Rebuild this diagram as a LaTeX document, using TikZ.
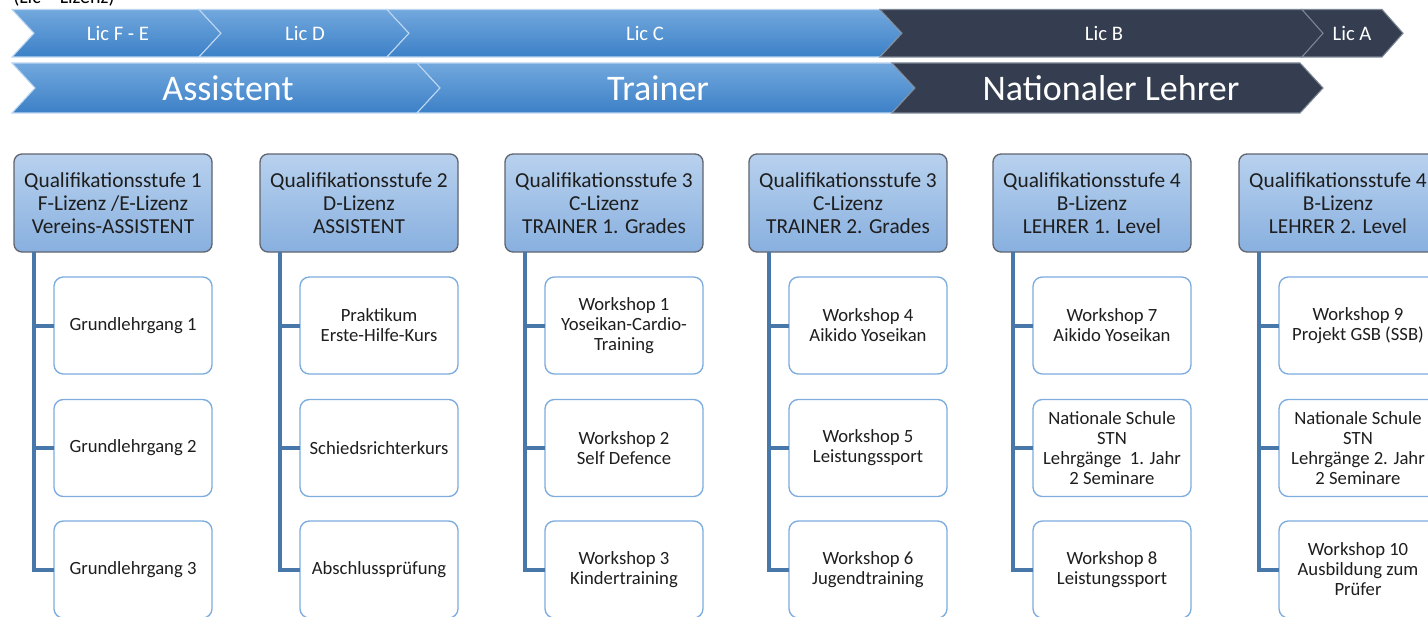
\documentclass[tikz,border=0pt]{standalone}
\usepackage{fontspec}
\setmainfont{Carlito}
\usetikzlibrary{calc}
\definecolor{blueT}{RGB}{114,168,221}
\definecolor{blueB}{RGB}{60,128,199}
\definecolor{blueEdge}{RGB}{188,214,241}
\definecolor{darkC}{RGB}{52,62,80}
\definecolor{darkEdge}{RGB}{125,134,148}
\definecolor{hdrT}{RGB}{184,209,238}
\definecolor{hdrB}{RGB}{136,176,223}
\definecolor{hdrLine}{RGB}{95,100,110}
\definecolor{kidLine}{RGB}{125,172,222}
\definecolor{connC}{RGB}{72,120,170}
\definecolor{txt}{RGB}{30,30,30}
\newcommand\chev[6]{\path[#1] (#2,#4) -- (#3,#4) -- ({#3+#6},{(#4+#5)/2}) -- (#3,#5) -- (#2,#5) -- ({#2+#6},{(#4+#5)/2}) -- cycle;}
\begin{document}
\begin{tikzpicture}[x=0.75pt,y=-0.75pt,
  bluechev/.style={top color=blueT,bottom color=blueB,draw=blueEdge,line width=0.8pt},
  darkchev/.style={fill=darkC,draw=darkEdge,line width=0.8pt},
  lictext/.style={text=white,inner sep=0pt,font=\fontsize{15.5}{18}\selectfont},
  bigtext/.style={text=white,inner sep=0pt,font=\fontsize{27}{30}\selectfont},
  hdr/.style={rectangle,rounded corners=6pt,draw=hdrLine,line width=1pt,top color=hdrT,bottom color=hdrB,
    minimum width=148.5pt,minimum height=73.5pt,inner sep=0pt,outer sep=0pt,align=center,text=txt,
    font=\fontsize{16}{17.25}\selectfont},
  kid/.style={rectangle,rounded corners=7pt,draw=kidLine,line width=1pt,fill=white,
    minimum width=118.5pt,minimum height=72.75pt,inner sep=0pt,outer sep=0pt,align=center,text=txt,
    font=\fontsize{14}{15}\selectfont},
  conn/.style={draw=connC,line width=3pt}]
\useasboundingbox (0,0) rectangle (1428,617);
\clip (0,0) rectangle (1428,617);

% note
\node[anchor=base west,inner sep=0pt,font=\fontsize{15}{18}\selectfont,text=black] (note) at (13,4) {(Lic = Lizenz)};

% top row chevrons
\chev{bluechev}{12}{199}{9.5}{57}{22}
\chev{bluechev}{199}{387}{9.5}{57}{22}
\chev{bluechev}{387}{880}{9.5}{57}{22}
\chev{darkchev}{880}{1302}{9.5}{57}{22}
\chev{darkchev}{1302}{1382}{9.5}{57}{21}
\node[lictext] (licFE) at (118,33) {Lic F - E};
\node[lictext] (licD) at (305,33) {Lic D};
\node[lictext] (licC) at (645,33) {Lic C};
\node[lictext] (licB) at (1104,33) {Lic B};
\node[lictext] (licA) at (1352,33) {Lic A};

% second row chevrons
\chev{bluechev}{12}{417}{63}{113}{23}
\chev{bluechev}{417}{892}{63}{113}{23}
\chev{darkchev}{892}{1300}{63}{113}{23}
\node[bigtext] (assist) at (228,88) {Assistent};
\node[bigtext] (trainer) at (658,88) {Trainer};
\node[bigtext] (natl) at (1111,88) {Nationaler Lehrer};

% headers
\node[hdr] (h1) at (113,203) {Qualifikationsstufe 1\\F-Lizenz /E-Lizenz\\Vereins-ASSISTENT};
\node[hdr] (h2) at (359,203) {Qualifikationsstufe 2\\D-Lizenz\\ASSISTENT};
\node[hdr] (h3) at (604,203) {Qualifikationsstufe 3\\C-Lizenz\\TRAINER 1. Grades};
\node[hdr] (h4) at (848,203) {Qualifikationsstufe 3\\C-Lizenz\\TRAINER 2. Grades};
\node[hdr] (h5) at (1092,203) {Qualifikationsstufe 4\\B-Lizenz\\LEHRER 1. Level};
\node[hdr] (h6) at (1338,203) {Qualifikationsstufe 4\\B-Lizenz\\LEHRER 2. Level};

% children
\node[kid] (c11) at (133,325.5) {Grundlehrgang 1};
\node[kid] (c12) at (133,448) {Grundlehrgang 2};
\node[kid] (c13) at (133,569.5) {Grundlehrgang 3};
\node[kid] (c21) at (379,325.5) {Praktikum\\Erste-Hilfe-Kurs};
\node[kid] (c22) at (379,448) {Schiedsrichterkurs};
\node[kid] (c23) at (379,569.5) {Abschlussprüfung};
\node[kid] (c31) at (624,325.5) {Workshop 1\\Yoseikan-Cardio-\\Training};
\node[kid] (c32) at (624,448) {Workshop 2\\Self Defence};
\node[kid] (c33) at (624,569.5) {Workshop 3\\Kindertraining};
\node[kid] (c41) at (868,325.5) {Workshop 4\\Aikido Yoseikan};
\node[kid] (c42) at (868,448) {Workshop 5\\Leistungssport};
\node[kid] (c43) at (868,569.5) {Workshop 6\\Jugendtraining};
\node[kid] (c51) at (1112,325.5) {Workshop 7\\Aikido Yoseikan};
\node[kid] (c52) at (1112,448) {Nationale Schule\\STN\\Lehrgänge~~1. Jahr\\2 Seminare};
\node[kid] (c53) at (1112,569.5) {Workshop 8\\Leistungssport};
\node[kid] (c61) at (1358,325.5) {Workshop 9\\Projekt GSB (SSB)};
\node[kid] (c62) at (1358,448) {Nationale Schule\\STN\\Lehrgänge 2. Jahr\\2 Seminare};
\node[kid] (c63) at (1358,569.5) {Workshop 10\\Ausbildung zum\\Prüfer};

% connectors
\foreach \i in {1,...,6}{
  \coordinate (t\i) at ($(h\i.south west)+(20,0)$);
  \draw[conn] (t\i) |- (c\i3.west);
  \draw[conn] (t\i |- c\i1.west) -- (c\i1.west);
  \draw[conn] (t\i |- c\i2.west) -- (c\i2.west);
}
\end{tikzpicture}
\end{document}
